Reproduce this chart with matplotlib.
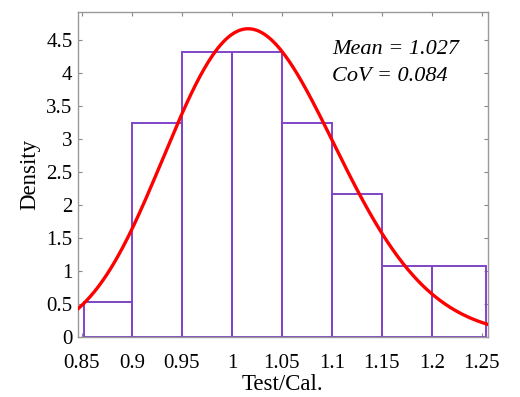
import numpy as np
import matplotlib
matplotlib.use("Agg")
import matplotlib.pyplot as plt
from matplotlib.ticker import FuncFormatter

plt.rcParams['font.family'] = ['Liberation Serif', 'DejaVu Serif']

# histogram bins and densities
bin_edges = [0.852, 0.90, 0.95, 1.00, 1.05, 1.10, 1.15, 1.20, 1.254]
densities = [0.53, 3.24, 4.32, 4.32, 3.24, 2.16, 1.08, 1.08]

# fitted lognormal (stated mean and CoV)
mean = 1.027
cov = 0.084

xticks = [0.85, 0.9, 0.95, 1.0, 1.05, 1.1, 1.15, 1.2, 1.25]
yticks = [0, 0.5, 1, 1.5, 2, 2.5, 3, 3.5, 4, 4.5]

fig = plt.figure(figsize=(5.2, 3.97), dpi=100)
ax = fig.add_axes([0.15, 0.151, 0.788, 0.819])

edges = np.array(bin_edges)
ax.bar(edges[:-1], densities, width=np.diff(edges), align='edge',
       fill=False, edgecolor='#7f45c8', linewidth=1.4, zorder=2)

sig = np.sqrt(np.log(1 + cov ** 2))
mu = np.log(mean) - sig ** 2 / 2
x = np.linspace(0.846, 1.256, 300)
pdf = np.exp(-(np.log(x) - mu) ** 2 / (2 * sig ** 2)) / (x * sig * np.sqrt(2 * np.pi))
ax.plot(x, pdf, color='red', linewidth=2.4, zorder=3)

ax.set_xlim(0.846, 1.256)
ax.set_ylim(0, 4.92)
ax.set_xticks(xticks)
ax.set_yticks(yticks)
ax.xaxis.set_major_formatter(FuncFormatter(lambda v, p: ('%g' % round(v, 2))))
ax.yaxis.set_major_formatter(FuncFormatter(lambda v, p: ('%g' % v)))
ax.tick_params(direction='in', top=True, right=True, length=3,
               color='#888888', labelsize=15)
ax.tick_params(axis='x', pad=12)
ax.tick_params(axis='y', pad=4)
for s in ax.spines.values():
    s.set_color('#999999')
    s.set_linewidth(1.0)

ax.set_xlabel('Test/Cal.', fontsize=16.5, labelpad=1)
ax.set_ylabel('Density', fontsize=16.5, labelpad=4)

ax.text(0.62, 0.883, 'Mean = 1.027', transform=ax.transAxes,
        fontsize=16, style='italic', va='center')
ax.text(0.62, 0.80, 'CoV = 0.084', transform=ax.transAxes,
        fontsize=16, style='italic', va='center')

fig.savefig('out.png', dpi=100)
